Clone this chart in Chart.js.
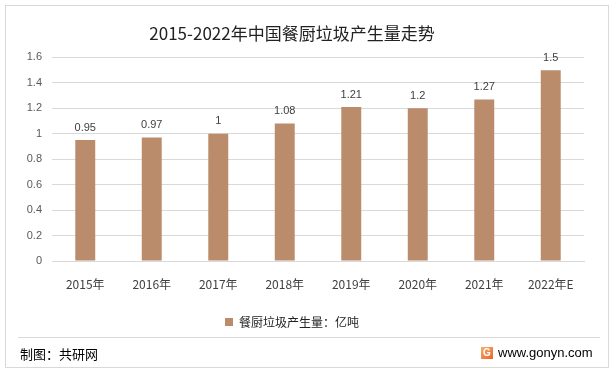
<!DOCTYPE html>
<html>
<head>
<meta charset="utf-8">
<script src="https://cdn.jsdelivr.net/npm/chart.js@4/dist/chart.umd.min.js"></script>
<style>
  html, body { margin: 0; padding: 0; background: #fff; }
  #wrap { width: 614px; height: 375px; position: relative; }
</style>
</head>
<body>
<div id="wrap"><canvas id="chart" width="614" height="375"></canvas></div>
<script>
// chart data
const years = ['2015年', '2016年', '2017年', '2018年', '2019年', '2020年', '2021年', '2022年E'];
const waste = [0.95, 0.97, 1, 1.08, 1.21, 1.2, 1.27, 1.5];
const yTicks = [0, 0.2, 0.4, 0.6, 0.8, 1, 1.2, 1.4, 1.6];

const fontCN = '"Microsoft YaHei", "Noto Sans CJK SC", sans-serif';
const barColor = '#BA8C6C';

// border, footer and value labels
const decorations = {
    id: 'decorations',
    beforeDraw(chart) {
        const ctx = chart.ctx;
        ctx.save();
        ctx.fillStyle = '#fff';
        ctx.fillRect(0, 0, chart.width, chart.height);
        ctx.restore();
    },
    afterDraw(chart) {
        const ctx = chart.ctx;
        ctx.save();
        // outer frame
        ctx.strokeStyle = '#d9d9d9';
        ctx.lineWidth = 1;
        ctx.strokeRect(5.5, 5.5, 603, 362);
        // separator above footer
        ctx.beginPath();
        ctx.moveTo(18, 337.5);
        ctx.lineTo(600, 337.5);
        ctx.stroke();
        // footer texts
        ctx.fillStyle = '#000';
        ctx.font = '13px ' + fontCN;
        ctx.textBaseline = 'middle';
        ctx.textAlign = 'left';
        ctx.fillText('制图：共研网', 20, 354);
        ctx.font = '13px "Liberation Sans", Arial, sans-serif';
        ctx.fillText('www.gonyn.com', 498, 353);
        // little logo
        const g = ctx.createLinearGradient(481, 346, 493, 360);
        g.addColorStop(0, '#f6b26b');
        g.addColorStop(1, '#e8612c');
        ctx.fillStyle = g;
        ctx.fillRect(481, 347, 12, 12);
        ctx.fillStyle = '#fff';
        ctx.font = 'bold 10px "Liberation Sans", sans-serif';
        ctx.textAlign = 'center';
        ctx.fillText('G', 487, 353.5);

        // value labels on bars
        const meta = chart.getDatasetMeta(0);
        ctx.fillStyle = '#404040';
        ctx.font = '11px "Liberation Sans", Arial, sans-serif';
        ctx.textAlign = 'center';
        ctx.textBaseline = 'bottom';
        meta.data.forEach((bar, i) => {
            ctx.fillText(String(waste[i]), bar.x, bar.y - 7);
        });
        ctx.restore();
    }
};

const ctx = document.getElementById('chart').getContext('2d');
const chart = new Chart(ctx, {
    type: 'bar',
    data: {
        labels: years,
        datasets: [{
            label: '餐厨垃圾产生量：亿吨',
            data: waste,
            backgroundColor: barColor,
            barPercentage: 0.3,
            categoryPercentage: 1
        }]
    },
    options: {
        responsive: false,
        animation: false,
        devicePixelRatio: 1,
        layout: {
            padding: { left: 0, right: 30, top: 5, bottom: 37 }
        },
        scales: {
            x: {
                grid: { display: false, drawTicks: false },
                border: { color: '#d9d9d9' },
                ticks: {
                    color: '#404040',
                    padding: 16,
                    font: { family: fontCN, size: 12 }
                },
                afterFit(scale) { scale.height = 49; }
            },
            y: {
                min: 0,
                max: 1.6,
                afterBuildTicks(scale) {
                    scale.ticks = yTicks.map(v => ({ value: v }));
                },
                grid: { color: '#d9d9d9', drawTicks: false },
                border: { display: false },
                ticks: {
                    color: '#595959',
                    padding: 10,
                    font: { family: '"Liberation Sans", Arial, sans-serif', size: 11 },
                    callback: v => String(v)
                },
                afterFit(scale) { scale.width = 52; }
            }
        },
        plugins: {
            title: {
                display: true,
                text: '2015-2022年中国餐厨垃圾产生量走势',
                color: '#222',
                font: { family: fontCN, size: 17, weight: 'normal' },
                padding: { top: 18, bottom: 14 }
            },
            legend: {
                display: true,
                position: 'bottom',
                labels: {
                    boxWidth: 8,
                    boxHeight: 8,
                    color: '#222',
                    padding: 6,
                    font: { family: fontCN, size: 12 }
                }
            },
            tooltip: { enabled: false }
        }
    },
    plugins: [decorations]
});
</script>
</body>
</html>
